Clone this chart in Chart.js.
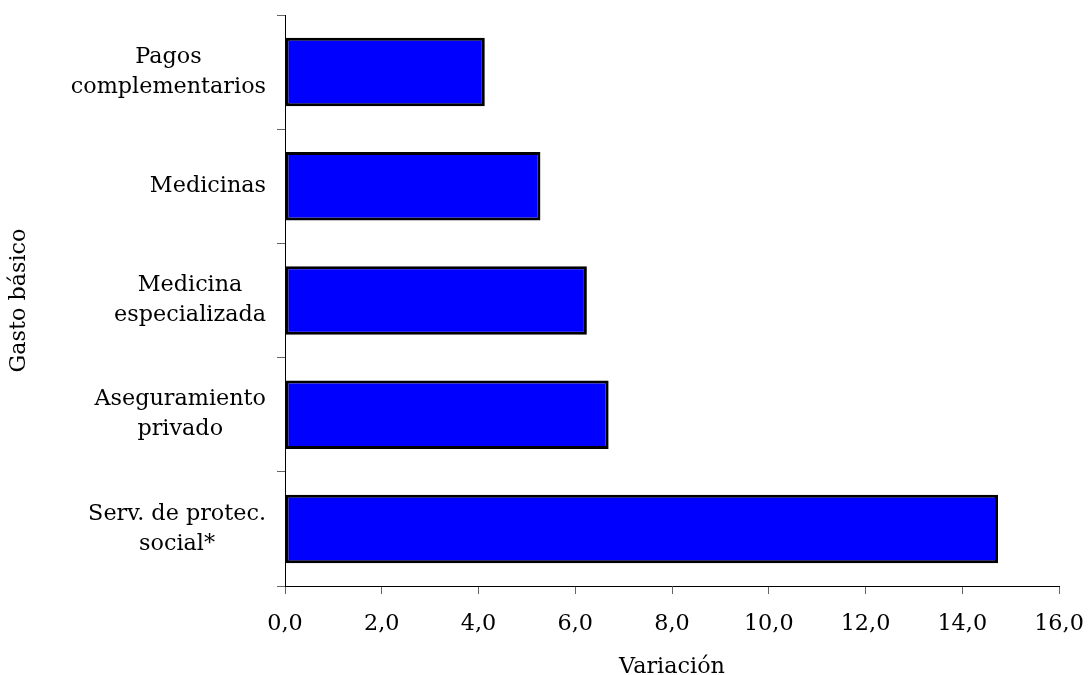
<!DOCTYPE html>
<html>
<head>
<meta charset="utf-8">
<script src="https://cdn.jsdelivr.net/npm/chart.js@4/dist/chart.umd.min.js"></script>
<style>
    html, body { margin: 0; padding: 0; background: #fff; }
    #wrap { width: 1088px; height: 675px; position: relative; }
</style>
</head>
<body>
<div id="wrap"><canvas id="gasto-chart"></canvas></div>
<script>
// Categories (multi-line labels) and values
const categories = [
    ['Pagos', 'complementarios'],
    ['Medicinas'],
    ['Medicina', 'especializada'],
    ['Aseguramiento', 'privado'],
    ['Serv. de protec.', 'social*']
];
const variacion = [4.13, 5.28, 6.24, 6.69, 14.74];
const xTicks = [0, 2, 4, 6, 8, 10, 12, 14, 16];

const FONT = "'DejaVu Serif', serif";
const FONT_SIZE = 22.3;

// Draw category labels: block right-aligned near the axis, lines centered inside the block
const categoryLabels = {
    id: 'categoryLabels',
    afterDraw(chart) {
        const ctx = chart.ctx;
        const yScale = chart.scales.y;
        const right = chart.chartArea.left - 19;
        const lineH = 30;
        ctx.save();
        ctx.font = `${FONT_SIZE}px ${FONT}`;
        ctx.fillStyle = '#000';
        ctx.textAlign = 'center';
        ctx.textBaseline = 'middle';
        categories.forEach((lines, i) => {
            const y = yScale.getPixelForValue(i);
            const maxW = Math.max(...lines.map(l => ctx.measureText(l).width));
            const cx = right - maxW / 2;
            lines.forEach((line, j) => {
                ctx.fillText(line, cx, y + (j - (lines.length - 1) / 2) * lineH);
            });
        });
        ctx.restore();
    }
};

const ctx = document.getElementById('gasto-chart').getContext('2d');
new Chart(ctx, {
    type: 'bar',
    data: {
        labels: categories.map(c => c.join(' ')),
        datasets: [{
            data: variacion,
            backgroundColor: '#0000ff',
            borderColor: '#000',
            borderWidth: 3,
            borderSkipped: false,
            barPercentage: 0.6,
            categoryPercentage: 1
        }]
    },
    options: {
        indexAxis: 'y',
        responsive: true,
        maintainAspectRatio: false,
        animation: false,
        layout: {
            padding: { top: 15, right: 29, bottom: 0, left: 0 }
        },
        plugins: {
            legend: { display: false },
            tooltip: { enabled: false }
        },
        scales: {
            x: {
                type: 'linear',
                min: 0,
                max: 16,
                afterBuildTicks: scale => {
                    scale.ticks = xTicks.map(v => ({ value: v }));
                },
                afterFit: scale => {
                    scale.height = 89;
                    scale.paddingLeft = 0;
                    scale.paddingRight = 0;
                },
                grid: {
                    drawOnChartArea: false,
                    drawTicks: true,
                    tickLength: 8,
                    color: '#666'
                },
                border: { display: true, color: '#000', width: 1 },
                ticks: {
                    padding: 17,
                    color: '#000',
                    font: { family: FONT, size: FONT_SIZE },
                    callback: v => v.toFixed(1).replace('.', ',')
                },
                title: {
                    display: true,
                    text: 'Variación',
                    color: '#000',
                    padding: { top: 0, bottom: -6 },
                    font: { family: FONT, size: FONT_SIZE }
                }
            },
            y: {
                type: 'category',
                offset: true,
                afterFit: scale => { scale.width = 285; },
                grid: {
                    offset: true,
                    drawOnChartArea: false,
                    drawTicks: true,
                    tickLength: 8,
                    color: '#666'
                },
                border: { display: true, color: '#000', width: 1 },
                ticks: { display: false },
                title: {
                    display: true,
                    text: 'Gasto básico',
                    color: '#000',
                    padding: { top: 6, bottom: 0 },
                    font: { family: FONT, size: FONT_SIZE }
                }
            }
        }
    },
    plugins: [categoryLabels]
});
</script>
</body>
</html>
